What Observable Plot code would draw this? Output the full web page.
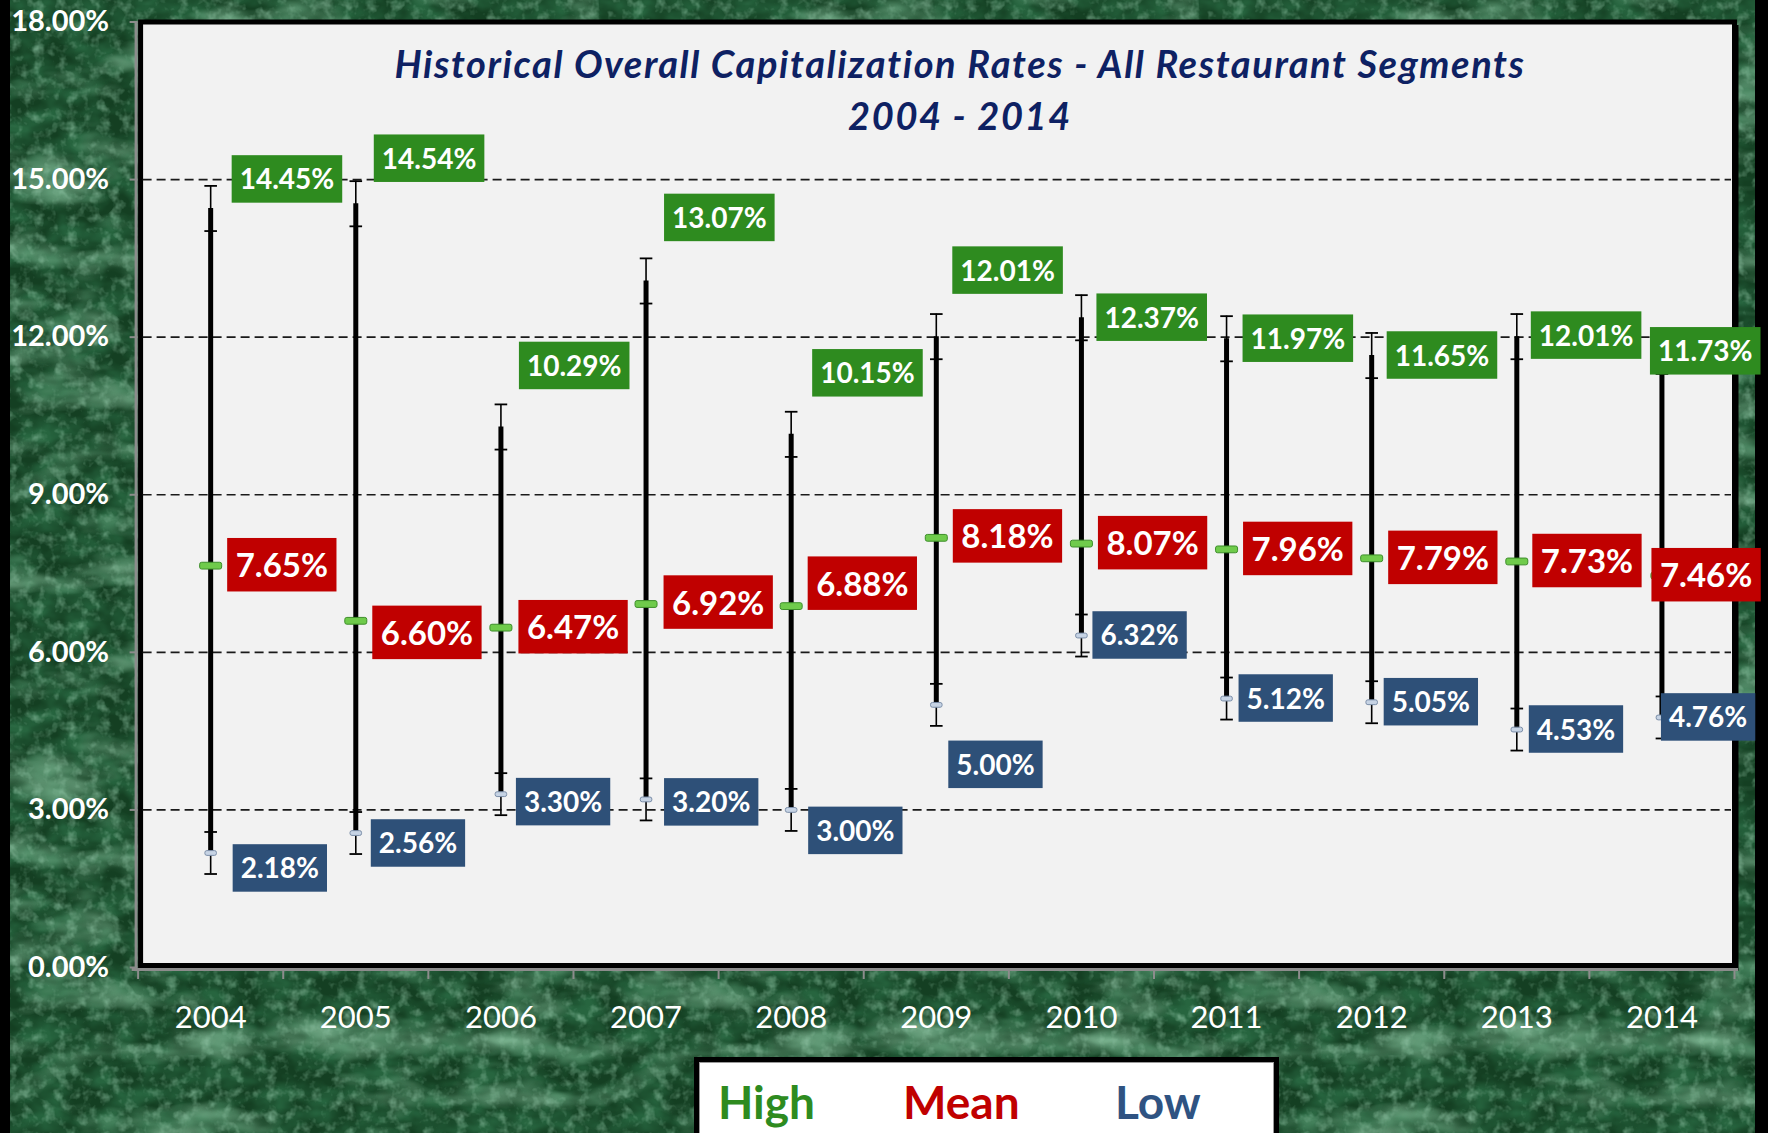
<!DOCTYPE html>
<html>
<head>
<meta charset="utf-8">
<script src="https://cdn.jsdelivr.net/npm/d3@7"></script>
<script src="https://cdn.jsdelivr.net/npm/@observablehq/plot@0.6"></script>
<style>
  html, body { margin: 0; padding: 0; width: 1768px; height: 1133px; overflow: hidden; }
  body {
    position: relative;
    font-family: Lato, "Open Sans", sans-serif;
    background-color: #143f22;
    background-image: url("data:image/svg+xml,%3Csvg xmlns='http://www.w3.org/2000/svg' width='600' height='600'%3E%3Cfilter id='d' x='0' y='0' width='100%25' height='100%25'%3E%3CfeTurbulence type='fractalNoise' baseFrequency='0.03 0.045' numOctaves='3' seed='2' stitchTiles='stitch'/%3E%3CfeColorMatrix values='0 0 0 0 0.02 0 0 0 0 0.13 0 0 0 0 0.05 0 0 0 2.2 -0.7'/%3E%3C/filter%3E%3Cfilter id='c' x='0' y='0' width='100%25' height='100%25'%3E%3CfeTurbulence type='fractalNoise' baseFrequency='0.008 0.022' numOctaves='4' seed='4' stitchTiles='stitch'/%3E%3CfeColorMatrix values='0 0 0 0 0.24 0 0 0 0 0.52 0 0 0 0 0.33 0 0 0 2.4 -1.2'/%3E%3C/filter%3E%3Cfilter id='f' x='0' y='0' width='100%25' height='100%25'%3E%3CfeTurbulence type='fractalNoise' baseFrequency='0.09' numOctaves='3' seed='9' stitchTiles='stitch'/%3E%3CfeColorMatrix values='0 0 0 0 0.30 0 0 0 0 0.58 0 0 0 0 0.40 0 0 0 1.4 -0.68'/%3E%3C/filter%3E%3Crect width='600' height='600' filter='url(%23d)'/%3E%3Crect width='600' height='600' filter='url(%23c)'/%3E%3Crect width='600' height='600' filter='url(%23f)'/%3E%3C/svg%3E");
  }
  #leftbar { position: absolute; left: 0; top: 0; width: 10px; height: 1133px; background: #000; }
  #rightbar { position: absolute; left: 1755px; top: 0; width: 13px; height: 1133px; background: #000; }
  #chart { position: absolute; left: 0; top: 0; }
  #title {
    position: absolute; left: 260px; width: 1400px; top: 37px;
    text-align: center; color: #0e2163;
    font: italic 700 38px/52px Lato, sans-serif; letter-spacing: 1.6px;
    pointer-events: none;
  }
  #legend {
    position: absolute; left: 694px; top: 1057px; width: 575px; height: 100px;
    background: #fff; border: 5px solid #000; box-shadow: inset 0 0 0 1px #9a9a9a;
  }
  #legend span {
    position: absolute; top: 10px; font: 700 46px/60px Lato, sans-serif;
  }
</style>
</head>
<body>
<div id="leftbar"></div>
<div id="rightbar"></div>
<div id="chart"></div>
<div id="title">Historical Overall Capitalization Rates - All Restaurant Segments<br>2004 - 2014</div>
<div id="legend"></div>
<script>
// ---------- data ----------
const years = [2004, 2005, 2006, 2007, 2008, 2009, 2010, 2011, 2012, 2013, 2014];
const highValues = [14.45, 14.54, 10.29, 13.07, 10.15, 12.01, 12.37, 11.97, 11.65, 12.01, 11.73];
const meanValues = [7.65, 6.60, 6.47, 6.92, 6.88, 8.18, 8.07, 7.96, 7.79, 7.73, 7.46];
const lowValues  = [2.18, 2.56, 3.30, 3.20, 3.00, 5.00, 6.32, 5.12, 5.05, 4.53, 4.76];
const errorHigh = 0.43;   // error-bar half length on High
const errorLow = 0.40;    // error-bar half length on Low
const yTicks = [0, 3, 6, 9, 12, 15, 18];
const gridValues = [3, 6, 9, 12, 15];
const seriesNames = ["High", "Mean", "Low"];
const seriesColors = ["#2e8b1f", "#c00000", "#2e5078"];

// label nudges (pixels), like hand-placed data labels
const highNudgeX = [4, 1, 1, 1, 4, -1, -2, -1, -2, -3, -29];
const highNudgeY = [-28, -44, -60, -62, -60, -65, 1, 1, 1, 0, 1];
const meanNudgeX = [0, 0, 1, 1, 0, 0, 0, 0, 0, -1, -27];
const meanNudgeY = [1, 13.5, 1, 0, -21, 0, 1, 1, 1, 1, 1];
const lowNudgeX  = [5, -2, -2, 1, 0, -5, -6, -5, -5, -5, -18];
const lowNudgeY  = [16.5, 11.5, 9, 4, 22, 61, 1, 1, 1, 1, 1];

// ---------- derived table ----------
const rows = years.map((year, i) => ({year, high: highValues[i], mean: meanValues[i], low: lowValues[i]}));
const caps = rows.flatMap(d => [
  {year: d.year, v: d.high + errorHigh}, {year: d.year, v: d.high - errorHigh},
  {year: d.year, v: d.low + errorLow}, {year: d.year, v: d.low - errorLow}
]);
const boundaries = [years[0] - 0.5, ...years.map(y => y + 0.5)];
const fmt = v => v.toFixed(2) + "%";

// custom symbols
const capSymbol = {draw(ctx, size) { const r = Math.sqrt(size / Math.PI); ctx.moveTo(-r, 0); ctx.lineTo(r, 0); }};
function barSymbol(h) {
  return {draw(ctx, size) {
    const r = Math.sqrt(size / Math.PI);
    const c = Math.min(2, h);
    ctx.moveTo(-r + c, -h); ctx.lineTo(r - c, -h); ctx.arcTo(r, -h, r, -h + c, c);
    ctx.lineTo(r, h - c); ctx.arcTo(r, h, r - c, h, c);
    ctx.lineTo(-r + c, h); ctx.arcTo(-r, h, -r, h - c, c);
    ctx.lineTo(-r, -h + c); ctx.arcTo(-r, -h, -r + c, -h, c);
    ctx.closePath();
  }};
}

const W = 1768, H = 1050;
const svg = Plot.plot({
  width: W, height: H,
  marginLeft: 137.6, marginRight: 34, marginTop: 21.5, marginBottom: 83,
  style: {fontFamily: "Lato, sans-serif", background: "transparent", overflow: "visible"},
  x: {domain: [years[0] - 0.5, years[years.length - 1] + 0.5], axis: null},
  y: {domain: [0, 18], axis: null},
  marks: [
    Plot.frame({fill: "#000", dx: 4, dy: 3}),
    Plot.frame({fill: "#f2f2f2", stroke: "#000", strokeWidth: 5, insetLeft: 2.5, insetBottom: 2}),
    Plot.ruleY(gridValues, {stroke: "#1a1a1a", strokeWidth: 1.6, strokeDasharray: "9,5", insetLeft: 5, insetRight: 3}),
    Plot.ruleX([boundaries[0]], {stroke: "#8c8c8c", strokeWidth: 3, dx: -2}),
    Plot.ruleY([0], {stroke: "#8c8c8c", strokeWidth: 3, dy: 2, insetLeft: -6, insetRight: -4}),
    Plot.axisY({ticks: yTicks, tickFormat: fmt, tickSize: 8, tickPadding: 21, stroke: "#8c8c8c", strokeWidth: 2,
                fill: "white", fontSize: 29, fontWeight: "bold", anchor: "left", label: null}),
    Plot.axisX({ticks: boundaries, tickSize: 10, tickFormat: () => "", stroke: "#8c8c8c", strokeWidth: 2,
                anchor: "bottom", dy: 2, label: null}),
    Plot.axisX({ticks: years, tickSize: 0, tickPadding: 38, tickFormat: d => String(d), fill: "white",
                fontSize: 31, anchor: "bottom", label: null}),
    // error whiskers
    Plot.ruleX(rows, {x: "year", y1: d => d.high - errorHigh, y2: d => d.high + errorHigh, stroke: "#000", strokeWidth: 1.6}),
    Plot.ruleX(rows, {x: "year", y1: d => d.low - errorLow, y2: d => d.low + errorLow, stroke: "#000", strokeWidth: 1.6}),
    // high-low line
    Plot.ruleX(rows, {x: "year", y1: "low", y2: "high", stroke: "#000", strokeWidth: 5}),
    Plot.dot(caps, {x: "year", y: "v", symbol: capSymbol, r: 6.3, stroke: "#000", strokeWidth: 1.8, fill: "none"}),
    // markers
    Plot.dot(rows, {x: "year", y: "mean", symbol: barSymbol(3.4), r: 11, fill: "#6fcb4b", stroke: "#3d8e2a", strokeWidth: 1}),
    Plot.dot(rows, {x: "year", y: "low", symbol: barSymbol(2.4), r: 5.8, fill: "#c6d3e4", stroke: "#7b8ea8", strokeWidth: 1}),
    // labels
    Plot.text(rows, {x: "year", y: "high", text: d => fmt(d.high), textAnchor: "start", dx: 25, fill: "white",
                     fontSize: 28, fontWeight: "bold", ariaDescription: "high-labels"}),
    Plot.text(rows, {x: "year", y: "mean", text: d => fmt(d.mean), textAnchor: "start", dx: 25, fill: "white",
                     fontSize: 33, fontWeight: "bold", ariaDescription: "mean-labels"}),
    Plot.text(rows, {x: "year", y: "low", text: d => fmt(d.low), textAnchor: "start", dx: 25, fill: "white",
                     fontSize: 28, fontWeight: "bold", ariaDescription: "low-labels"})
  ]
});
document.getElementById("chart").appendChild(svg);

// boxes behind labels
const textGroups = Array.from(svg.querySelectorAll('g[aria-label="text"]'));
function decorate(desc, k, fill, nx, ny, padX, boxH) {
  const g = svg.querySelector(`g[aria-description="${desc}"]`) || textGroups[textGroups.length - 3 + k];
  if (!g) return;
  g.querySelectorAll("text").forEach((t, i) => {
    const base = t.getAttribute("transform") || "";
    t.setAttribute("transform", `translate(${nx[i]},${ny[i]}) ${base}`);
    const bb = t.getBBox();
    const cy = bb.y + bb.height / 2 + 0.5;
    const r = document.createElementNS("http://www.w3.org/2000/svg", "rect");
    r.setAttribute("transform", t.getAttribute("transform"));
    r.setAttribute("x", bb.x - padX);
    r.setAttribute("y", cy - boxH / 2);
    r.setAttribute("width", bb.width + 2 * padX);
    r.setAttribute("height", boxH);
    r.setAttribute("fill", fill);
    r.setAttribute("stroke", "none");
    g.insertBefore(r, t);
  });
}
decorate("high-labels", 0, seriesColors[0], highNudgeX, highNudgeY, 8, 47.5);
decorate("mean-labels", 1, seriesColors[1], meanNudgeX, meanNudgeY, 8.5, 53.5);
decorate("low-labels", 2, seriesColors[2], lowNudgeX, lowNudgeY, 8, 47.5);

// legend
const legendX = [19, 204, 416];
const legend = document.getElementById("legend");
seriesNames.forEach((name, i) => {
  const s = document.createElement("span");
  s.textContent = name;
  s.style.left = legendX[i] + "px";
  s.style.color = i === 2 ? "#2f5382" : seriesColors[i];
  legend.appendChild(s);
});
</script>
</body>
</html>
